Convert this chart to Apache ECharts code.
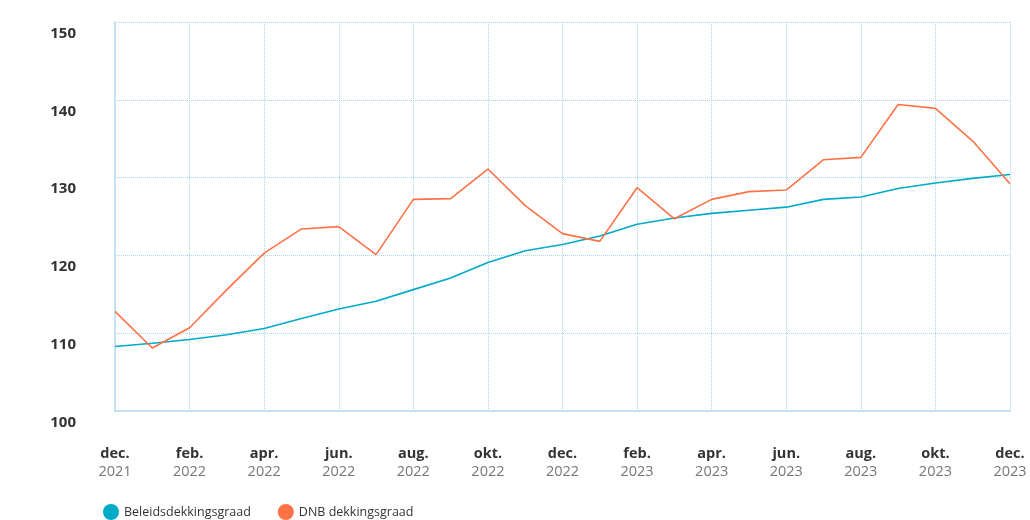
<!DOCTYPE html>
<html>
<head>
<meta charset="utf-8">
<script src="https://cdn.jsdelivr.net/npm/echarts@6/dist/echarts.min.js"></script>
<style>
  html, body { margin: 0; padding: 0; background: #fff; }
  #chart { width: 1030px; height: 520px; }
</style>
</head>
<body>
<div id="chart"></div>
<script>
const months = ['dec.', 'jan.', 'feb.', 'mrt.', 'apr.', 'mei', 'jun.', 'jul.', 'aug.', 'sep.', 'okt.', 'nov.',
  'dec.', 'jan.', 'feb.', 'mrt.', 'apr.', 'mei', 'jun.', 'jul.', 'aug.', 'sep.', 'okt.', 'nov.', 'dec.'];
const years = ['2021', '2022', '2022', '2022', '2022', '2022', '2022', '2022', '2022', '2022', '2022', '2022',
  '2022', '2023', '2023', '2023', '2023', '2023', '2023', '2023', '2023', '2023', '2023', '2023', '2023'];

const beleidsdekkingsgraad = [108.3, 108.7, 109.2, 109.8, 110.6, 111.9, 113.1, 114.1, 115.6, 117.1, 119.1, 120.6,
  121.4, 122.5, 124.0, 124.8, 125.4, 125.8, 126.2, 127.2, 127.5, 128.6, 129.3, 129.9, 130.4];
const dnbDekkingsgraad = [112.8, 108.1, 110.7, 115.6, 120.3, 123.4, 123.7, 120.1, 127.2, 127.3, 131.1, 126.4,
  122.8, 121.8, 128.7, 124.7, 127.2, 128.2, 128.4, 132.3, 132.6, 139.4, 138.9, 134.7, 129.2];

const categories = months.map((m, i) => m + '|' + years[i]);

const font = '"Open Sans", sans-serif';
const gridColor = '#a9d8ec';

const chart = echarts.init(document.getElementById('chart'));

chart.setOption({
  animation: false,
  textStyle: { fontFamily: font },
  color: ['#00abc8', '#ff7246'],
  grid: { left: 115, right: 20, top: 22, bottom: 109 },
  legend: {
    left: 103,
    top: 504,
    padding: 0,
    icon: 'circle',
    itemWidth: 16,
    itemHeight: 16,
    itemGap: 27,
    textStyle: { fontFamily: font, fontSize: 12.5, color: '#333' },
    data: ['Beleidsdekkingsgraad', 'DNB dekkingsgraad']
  },
  xAxis: {
    type: 'category',
    boundaryGap: false,
    data: categories,
    axisLine: { lineStyle: { color: '#b9dcec', width: 1.5 } },
    axisTick: { show: false },
    splitLine: {
      show: true,
      interval: 1,
      lineStyle: { color: gridColor, type: 'dotted', width: 1 }
    },
    axisLabel: {
      interval: 1,
      margin: 34,
      formatter: (v) => {
        const [m, y] = v.split('|');
        return '{m|' + m + '}\n{y|' + y + '}';
      },
      rich: {
        m: { fontFamily: font, fontSize: 14.5, fontWeight: 'bold', color: '#333', lineHeight: 18 },
        y: { fontFamily: font, fontSize: 14.5, color: '#777', lineHeight: 18 }
      }
    }
  },
  yAxis: {
    type: 'value',
    min: 100,
    max: 150,
    interval: 10,
    axisLine: { show: true, lineStyle: { color: '#b9dcec', width: 1.5 } },
    axisTick: { show: false },
    splitLine: { lineStyle: { color: gridColor, type: 'dotted', width: 1 } },
    axisLabel: {
      margin: 39,
      verticalAlign: 'top',
      lineHeight: 23,
      fontFamily: font,
      fontSize: 15,
      fontWeight: 'bold',
      color: '#333'
    }
  },
  series: [
    {
      name: 'Beleidsdekkingsgraad',
      type: 'line',
      data: beleidsdekkingsgraad,
      showSymbol: false,
      lineStyle: { width: 1.6 }
    },
    {
      name: 'DNB dekkingsgraad',
      type: 'line',
      data: dnbDekkingsgraad,
      showSymbol: false,
      lineStyle: { width: 1.6 }
    }
  ]
});
</script>
</body>
</html>
